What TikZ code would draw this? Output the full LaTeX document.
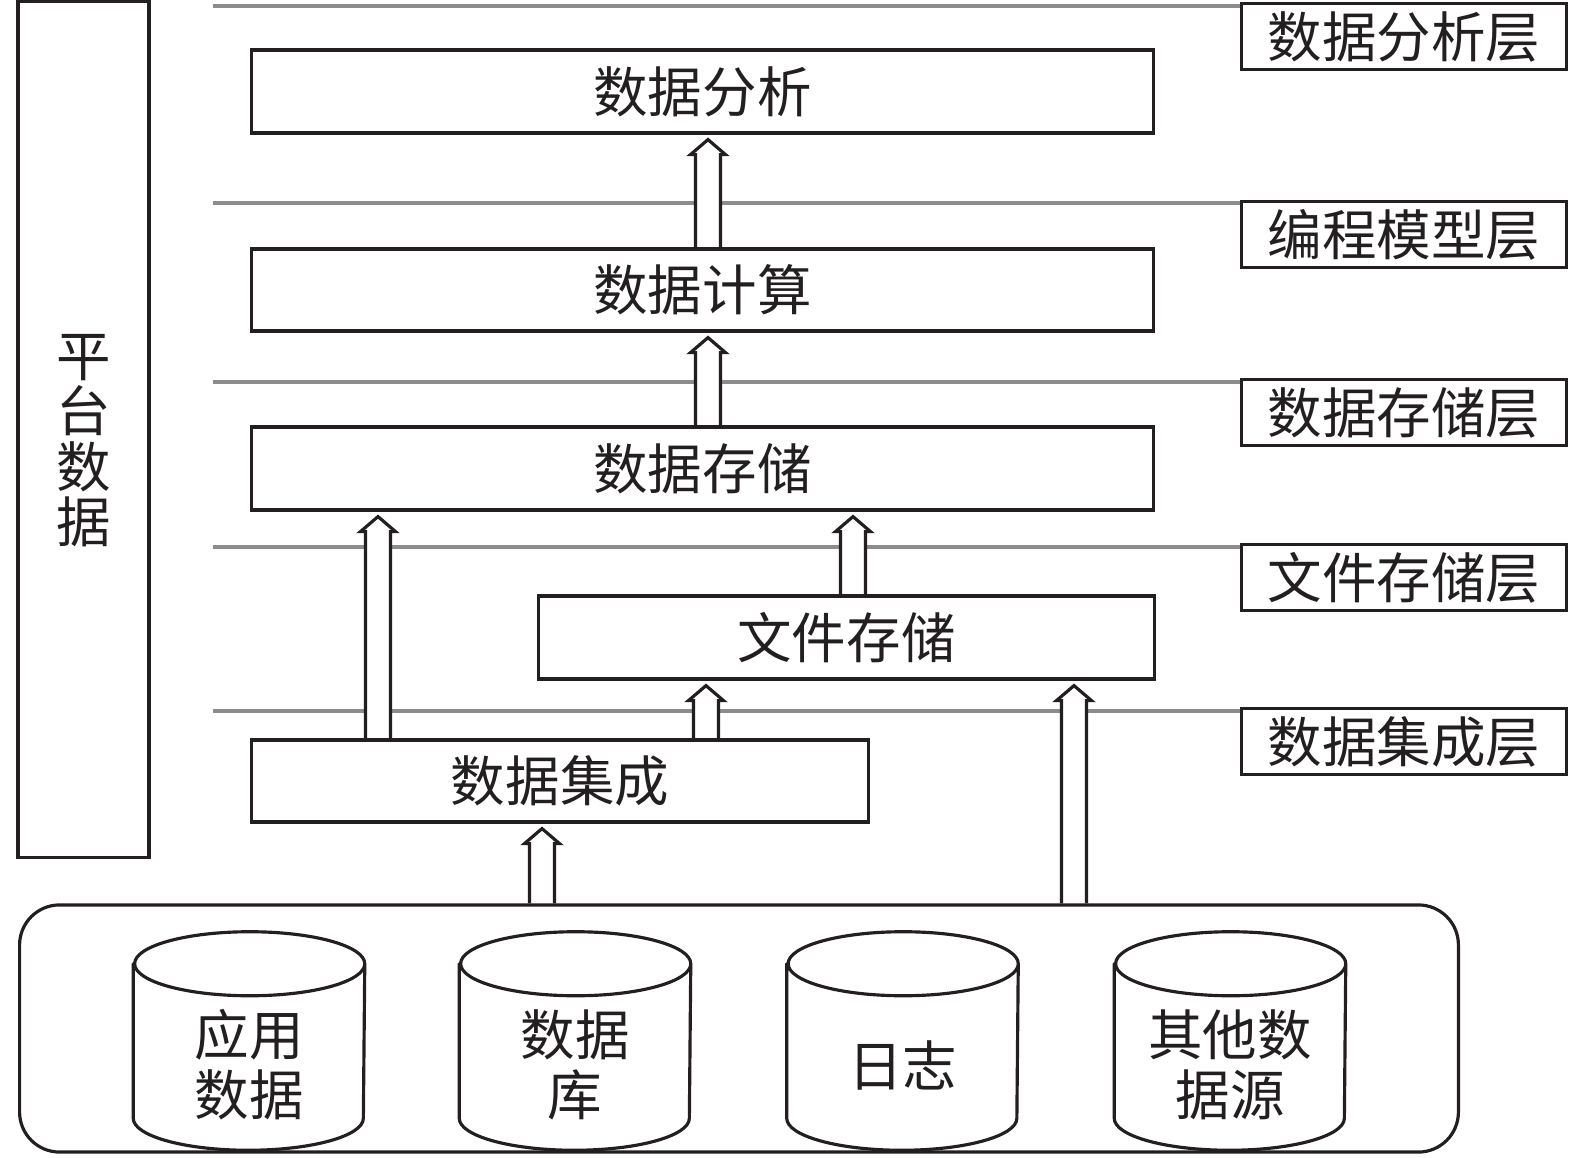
\documentclass[tikz,border=0pt]{standalone}
\usepackage{fontspec}
\setmainfont{Noto Sans CJK SC}
\usetikzlibrary{calc,backgrounds}

\definecolor{inkblack}{HTML}{231F20}
\definecolor{rulegray}{HTML}{8C8C8C}

\tikzset{
  cjk/.style={font=\fontsize{15.5pt}{17pt}\selectfont, text=inkblack},
  stagebox/.style={draw=inkblack, line width=0.9pt, cjk, inner sep=0pt},
  tagbox/.style={stagebox, minimum width=3.25cm, minimum height=0.66cm, anchor=north west},
  layerline/.style={draw=rulegray, line width=0.9pt},
  dbline/.style={draw=inkblack, line width=0.9pt},
  dbframe/.style={minimum width=2.3cm, minimum height=2.17cm, inner sep=0pt},
  hollowarrow/.style={draw=inkblack, line width=0.9pt, fill=white,
    to path={let \p1=(\tikztostart), \p2=(\tikztotarget) in
      (\x1-\aw,\y1) -- (\x1-\aw,\y2-\arrgap-\ah) -- (\x1-\hw,\y2-\arrgap-\ah) -- (\x1,\y2-\arrgap)
      -- (\x1+\hw,\y2-\arrgap-\ah) -- (\x1+\aw,\y2-\arrgap-\ah) -- (\x1+\aw,\y1)}},
}

\begin{document}
\begin{tikzpicture}[x=0.01cm,y=-0.01cm,line cap=round]
        % Tunables
        \def\aw{0.125cm}      % half width of the arrow shaft
        \def\hw{0.175cm}      % half width of the arrow head
        \def\ah{0.15cm}       % height of the arrow head
        \def\arrgap{0.05cm}   % gap between arrow tip and the box above
        \def\rx{1.15cm}       % x radius of the database ends
        \def\ry{0.32cm}       % y radius of the database ends

        \useasboundingbox (0,0) rectangle (1575,1158);

        % Helper macro for one database: (name, x, text)
        \newcommand{\dbnode}[3]{%
          \node[dbframe] (#1) at (#2,1041) {};
          \draw[dbline] ([yshift=-\ry]#1.north west) -- ([yshift=\ry]#1.south west)
            arc[start angle=180,end angle=360,x radius=\rx,y radius=\ry]
            -- ([yshift=-\ry]#1.north east)
            arc[start angle=0,end angle=180,x radius=\rx,y radius=\ry]
            arc[start angle=180,end angle=360,x radius=\rx,y radius=\ry];
          \node[cjk,align=center] (#1txt) at ([yshift=-0.24cm]#1.center) {#3};
        }

        % Layer tags + grey rules
        \foreach \ty/\ly/\txt [count=\i] in {2/6/数据分析层, 200/203/编程模型层, 378/382/数据存储层,
                                            543/547/文件存储层, 707/711/数据集成层}{
          \node[tagbox] (tag\i) at (1240,\ty) {\txt};
          \begin{scope}[on background layer]
            \draw[layerline] (213,\ly) -- (tag\i.west |- 213,\ly);
          \end{scope}
        }

        % Platform column
        \node[stagebox,minimum width=1.31cm,minimum height=8.55cm] (platform) at (83.5,429.5) {};
        \node[align=center,text=inkblack,font=\fontsize{15.5pt}{15.8pt}\selectfont]
          (platformtxt) at ([yshift=-0.11cm]platform.center) {平\\台\\数\\据};

        % Stages
        \node[stagebox,minimum width=9.01cm,minimum height=0.83cm] (ana)   at (702.5,91.5)  {数据分析};
        \node[stagebox,minimum width=9.01cm,minimum height=0.82cm] (comp)  at (702.5,290)   {数据计算};
        \node[stagebox,minimum width=9.01cm,minimum height=0.83cm] (store) at (702.5,468.5) {数据存储};
        \node[stagebox,minimum width=6.15cm,minimum height=0.83cm] (file)  at (846.5,637.5) {文件存储};
        \node[stagebox,minimum width=6.16cm,minimum height=0.82cm] (integ) at (560,781)     {数据集成};

        % Data sources
        \node[draw=inkblack,line width=0.9pt,rounded corners=0.4cm,
              minimum width=14.38cm,minimum height=2.47cm] (src) at (739,1028.5) {};
        \dbnode{appdb}{249}{应用\\数据}
        \dbnode{sqldb}{575}{数据\\库}
        \dbnode{logdb}{902.5}{日志}
        \dbnode{otherdb}{1230}{其他数\\据源}

        % Arrows
        \begin{scope}[on background layer]
          \draw[hollowarrow] (708,0 |- comp.north)  to (ana.south);
          \draw[hollowarrow] (708,0 |- store.north) to (comp.south);
          \draw[hollowarrow] (378,0 |- integ.north) to (store.south);
          \draw[hollowarrow] (853,0 |- file.north)  to (store.south);
          \draw[hollowarrow] (706,0 |- integ.north) to (file.south);
          \draw[hollowarrow] (542,0 |- src.north)   to (integ.south);
          \draw[hollowarrow] (1074,0 |- src.north)  to (file.south);
        \end{scope}
      \end{tikzpicture}
\end{document}
